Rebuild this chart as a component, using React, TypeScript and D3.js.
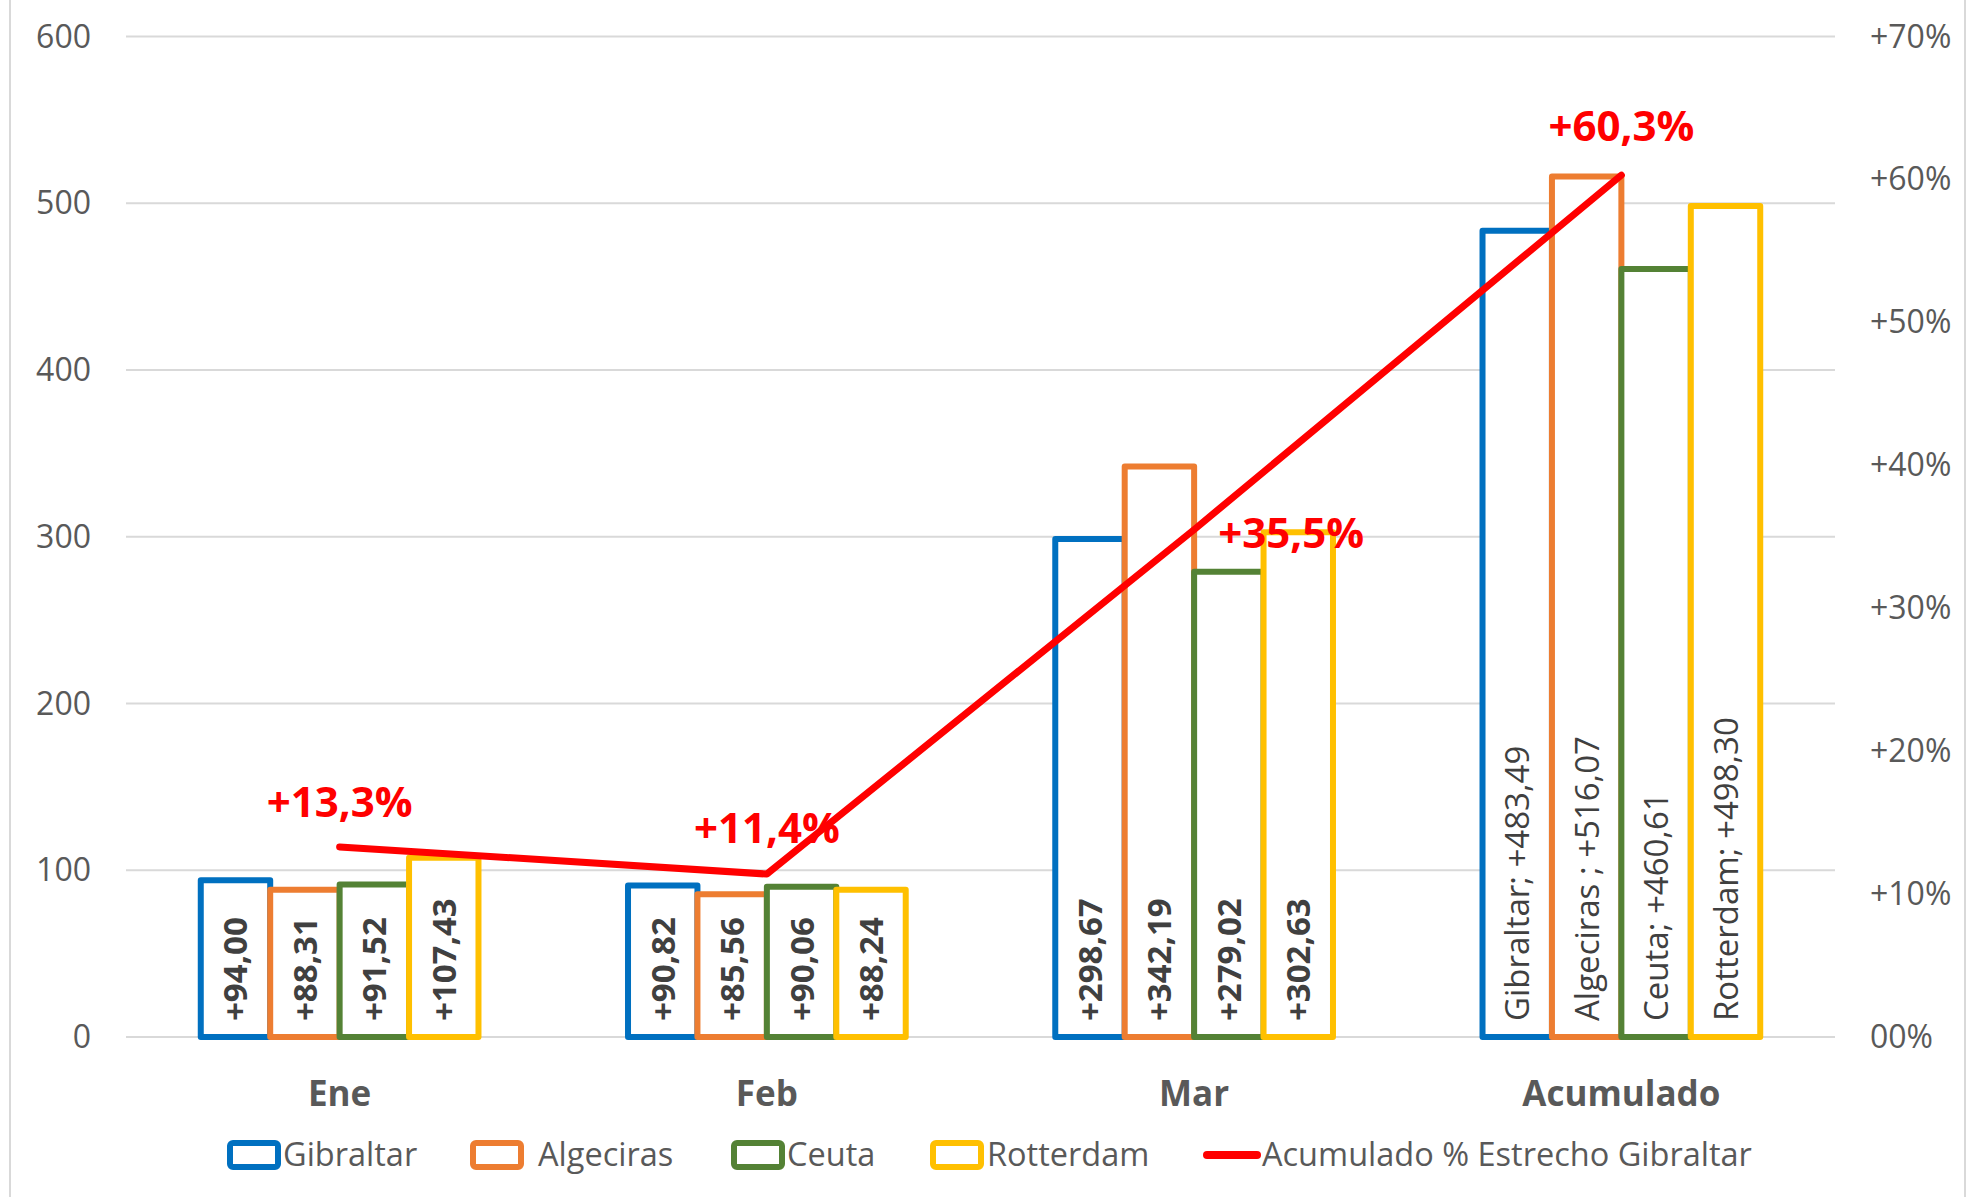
import React from 'react';
import * as d3 from 'd3';

const categories = ['Ene', 'Feb', 'Mar', 'Acumulado'];
const seriesNames = ['Gibraltar', 'Algeciras', 'Ceuta', 'Rotterdam'];
const seriesColors = ['#0070C0', '#ED7D31', '#548235', '#FFC000'];
const gibraltar = [94.0, 90.82, 298.67, 483.49];
const algeciras = [88.31, 85.56, 342.19, 516.07];
const ceuta = [91.52, 90.06, 279.02, 460.61];
const rotterdam = [107.43, 88.24, 302.63, 498.3];
const accumPct = [13.3, 11.4, 35.5, 60.3];
const lineName = 'Acumulado % Estrecho Gibraltar';
const lastLabels = ['Gibraltar; ', 'Algeciras ; ', 'Ceuta; ', 'Rotterdam; '];
const leftTicks = [0, 100, 200, 300, 400, 500, 600];
const rightTicks = [0, 10, 20, 30, 40, 50, 60, 70];

const seriesValues = [gibraltar, algeciras, ceuta, rotterdam];

const W = 1975;
const H = 1197;
const FONT = "'Open Sans', 'Noto Sans', sans-serif";
const fmt = (v: number) => '+' + v.toFixed(2).replace('.', ',');
const fmtPct = (v: number) => '+' + v.toFixed(1).replace('.', ',') + '%';

const App = () => {
  const x0 = d3.scaleBand<string>().domain(categories).range([126, 1835]).paddingInner(0.35).paddingOuter(0.175);
  const x1 = d3.scaleBand<string>().domain(seriesNames).range([0, x0.bandwidth()]);
  const y = d3.scaleLinear().domain([0, 600]).range([1037, 36.5]);
  const y2 = d3.scaleLinear().domain([0, 70]).range([1037, 36.5]);
  const cx = (c: string) => (x0(c) as number) + x0.bandwidth() / 2;

  const line = d3.line<number>()
    .x((_, i) => cx(categories[i]))
    .y((d) => y2(d));

  // label offsets like Excel placed them
  const lblPos = [
    { dx: 0, dy: -30, anchor: 'middle' },
    { dx: 0, dy: -31, anchor: 'middle' },
    { dx: 24, dy: 18, anchor: 'start' },
    { dx: 0, dy: -34, anchor: 'middle' },
  ];

  const legendX = [227, 470, 731, 930];
  const legendTextX = [56, 68, 56, 57];

  return (
    <div style={{ position: 'absolute', left: 0, top: 0 }}>
      <svg width={W} height={H} style={{ display: 'block', background: '#fff' }} fontFamily={FONT}>
        <line x1={10} x2={10} y1={0} y2={H} stroke="#D9D9D9" strokeWidth={2} />
        <line x1={1965} x2={1965} y1={0} y2={H} stroke="#D9D9D9" strokeWidth={2} />

        {leftTicks.map((t) => (
          <g key={t}>
            <line x1={126} x2={1835} y1={y(t)} y2={y(t)} stroke="#D9D9D9" strokeWidth={2} />
            <text x={91} y={y(t) + 11} textAnchor="end" fontSize={32} fill="#595959">{t}</text>
          </g>
        ))}
        {rightTicks.map((t) => (
          <text key={t} x={1870} y={y2(t) + 11} fontSize={32} fill="#595959">
            {t === 0 ? '00%' : '+' + t + '%'}
          </text>
        ))}

        {categories.map((c, ci) => (
          <g key={c} transform={`translate(${x0(c)},0)`}>
            {seriesNames.map((s, si) => {
              const v = seriesValues[si][ci];
              const bx = x1(s) as number;
              const bw = x1.bandwidth();
              const last = ci === categories.length - 1;
              return (
                <g key={s}>
                  <rect x={bx} y={y(v)} width={bw} height={y(0) - y(v)}
                    fill="#fff" stroke={seriesColors[si]} strokeWidth={6} strokeLinejoin="round" />
                  <text transform={`translate(${bx + bw / 2 + 12},${y(0) - 16}) rotate(-90)`}
                    fontSize={33} fontWeight={last ? 400 : 700} fill="#404040">
                    {(last ? lastLabels[si] : '') + fmt(v)}
                  </text>
                </g>
              );
            })}
          </g>
        ))}

        <path d={line(accumPct) as string} fill="none" stroke="#FF0000" strokeWidth={7} strokeLinejoin="round" strokeLinecap="round" />
        {accumPct.map((p, i) => (
          <text key={i} x={cx(categories[i]) + lblPos[i].dx} y={y2(p) + lblPos[i].dy}
            textAnchor={lblPos[i].anchor as any} fontSize={42} fontWeight={700} fill="#FF0000">
            {fmtPct(p)}
          </text>
        ))}

        {categories.map((c) => (
          <text key={c} x={cx(c)} y={1106} textAnchor="middle" fontSize={35} fontWeight={700} fill="#595959">{c}</text>
        ))}

        {seriesNames.map((s, i) => (
          <g key={s} transform={`translate(${legendX[i]},1155)`}>
            <rect x={3} y={-12} width={48} height={24} rx={3} fill="#fff" stroke={seriesColors[i]} strokeWidth={6} />
            <text x={legendTextX[i]} y={11} fontSize={32.5} fill="#595959">{s}</text>
          </g>
        ))}
        <g transform="translate(1203,1155)">
          <line x1={4} x2={54} y1={0} y2={0} stroke="#FF0000" strokeWidth={8} strokeLinecap="round" />
          <text x={59} y={11} fontSize={32.5} fill="#595959">{lineName}</text>
        </g>
      </svg>
    </div>
  );
};

export default App;
